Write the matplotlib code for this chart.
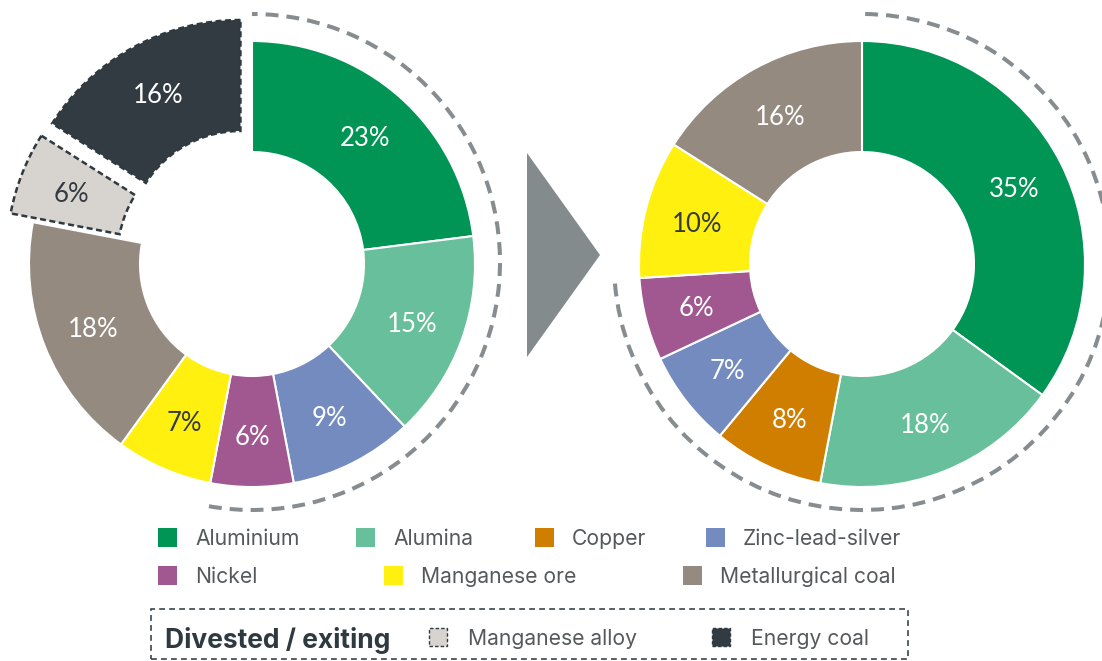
import matplotlib
matplotlib.use("Agg")
import matplotlib.pyplot as plt
from matplotlib.patches import Arc, Polygon, Rectangle

plt.rcParams['font.family'] = ['Lato', 'DejaVu Sans']
LEGEND_FONT = ['Inter', 'DejaVu Sans']

# portfolio split before and after the divestments (% of total)
left_names = ["Aluminium", "Alumina", "Zinc-lead-silver", "Nickel", "Manganese ore",
              "Metallurgical coal", "Manganese alloy", "Energy coal"]
left_shares = [23, 15, 9, 6, 7, 18, 6, 16]
left_divested = [False, False, False, False, False, False, True, True]

right_names = ["Aluminium", "Alumina", "Copper", "Zinc-lead-silver", "Nickel",
               "Manganese ore", "Metallurgical coal"]
right_shares = [35, 18, 8, 7, 6, 10, 16]

colours = {
    "Aluminium": "#009455",
    "Alumina": "#67bf9b",
    "Copper": "#cf7e00",
    "Zinc-lead-silver": "#738bbf",
    "Nickel": "#a15891",
    "Manganese ore": "#fff00f",
    "Metallurgical coal": "#958a80",
    "Manganese alloy": "#d7d3cf",
    "Energy coal": "#313b41",
}
dark_labels = ["Manganese ore", "Manganese alloy"]

legend_rows = [["Aluminium", "Alumina", "Copper", "Zinc-lead-silver"],
               ["Nickel", "Manganese ore", "Metallurgical coal"]]
legend_x = [[158, 356, 535, 706], [158, 384, 683]]
legend_y = [537, 575]
divested_names = ["Manganese alloy", "Energy coal"]
divested_x = [429, 712]

W, H = 1102, 661
DARK = "#2f3a40"
GREY = "#868c8f"
R_OUT, RING = 223, 111
PULL = 24  # how far divested wedges are pulled out

fig = plt.figure(figsize=(W / 100, H / 100), dpi=100)
ax = fig.add_axes([0, 0, 1, 1])


def donut(names, shares, cx, cy, explode=None):
    wedges, _, pcts = ax.pie(
        shares, colors=[colours[n] for n in names], startangle=90, counterclock=False,
        radius=R_OUT, center=(cx, H - cy), explode=explode,
        autopct=lambda p: f"{p:.0f}%", pctdistance=0.765, frame=True,
        wedgeprops=dict(width=RING, edgecolor="white", linewidth=1.5),
        textprops=dict(color="white", fontsize=18.5))
    for name, t in zip(names, pcts):
        t.set_va("center_baseline")
        if name in dark_labels:
            t.set_color("#333b40")
    return wedges


# before
lw = donut(left_names, left_shares, 252, 264,
           explode=[PULL if d else 0 for d in left_divested])
for w, d in zip(lw, left_divested):
    if d:
        w.set_edgecolor(DARK)
        w.set_linewidth(1.8)
        w.set_linestyle((0, (2.4, 1.4)))
ax.add_patch(Arc((252, H - 262), 496, 496, theta1=-100, theta2=90, color=GREY,
                 lw=2.9, linestyle=(0, (3.2, 2.0)), capstyle="butt"))

# after
donut(right_names, right_shares, 862, 264)
ax.add_patch(Arc((862, H - 262), 496, 496, theta1=-175, theta2=90, color=GREY,
                 lw=2.9, linestyle=(0, (3.2, 2.0)), capstyle="butt"))

# arrow between the two
ax.add_patch(Polygon([(527, H - 153), (600, H - 255), (527, H - 357)],
                     closed=True, color="#838b8d", lw=0))

# legend
for row, xs, y in zip(legend_rows, legend_x, legend_y):
    for name, x in zip(row, xs):
        ax.add_patch(Rectangle((x, H - y - 9.5), 19, 19, color=colours[name], lw=0))
        ax.text(x + 37, H - y, name, fontsize=15.2, color="#55595c",
                va="center_baseline", family=LEGEND_FONT)

ax.add_patch(Rectangle((151, H - 659), 757, 50, fill=False, edgecolor="#3d464b",
                       lw=1.2, linestyle=(0, (3.5, 2.5))))
ax.text(165, H - 637, "Divested / exiting", fontsize=19, fontweight="bold",
        color=DARK, va="center_baseline", family=LEGEND_FONT)
for name, x in zip(divested_names, divested_x):
    ax.add_patch(Rectangle((x, H - 646), 18, 18, facecolor=colours[name],
                           edgecolor=DARK, lw=1.0, linestyle=(0, (2.5, 1.5))))
    ax.text(x + 39, H - 637, name, fontsize=15.2, color="#55595c",
            va="center_baseline", family=LEGEND_FONT)

ax.set_xlim(0, W)
ax.set_ylim(0, H)
ax.set_aspect("equal")
ax.axis("off")

fig.savefig("out.png", dpi=100)
